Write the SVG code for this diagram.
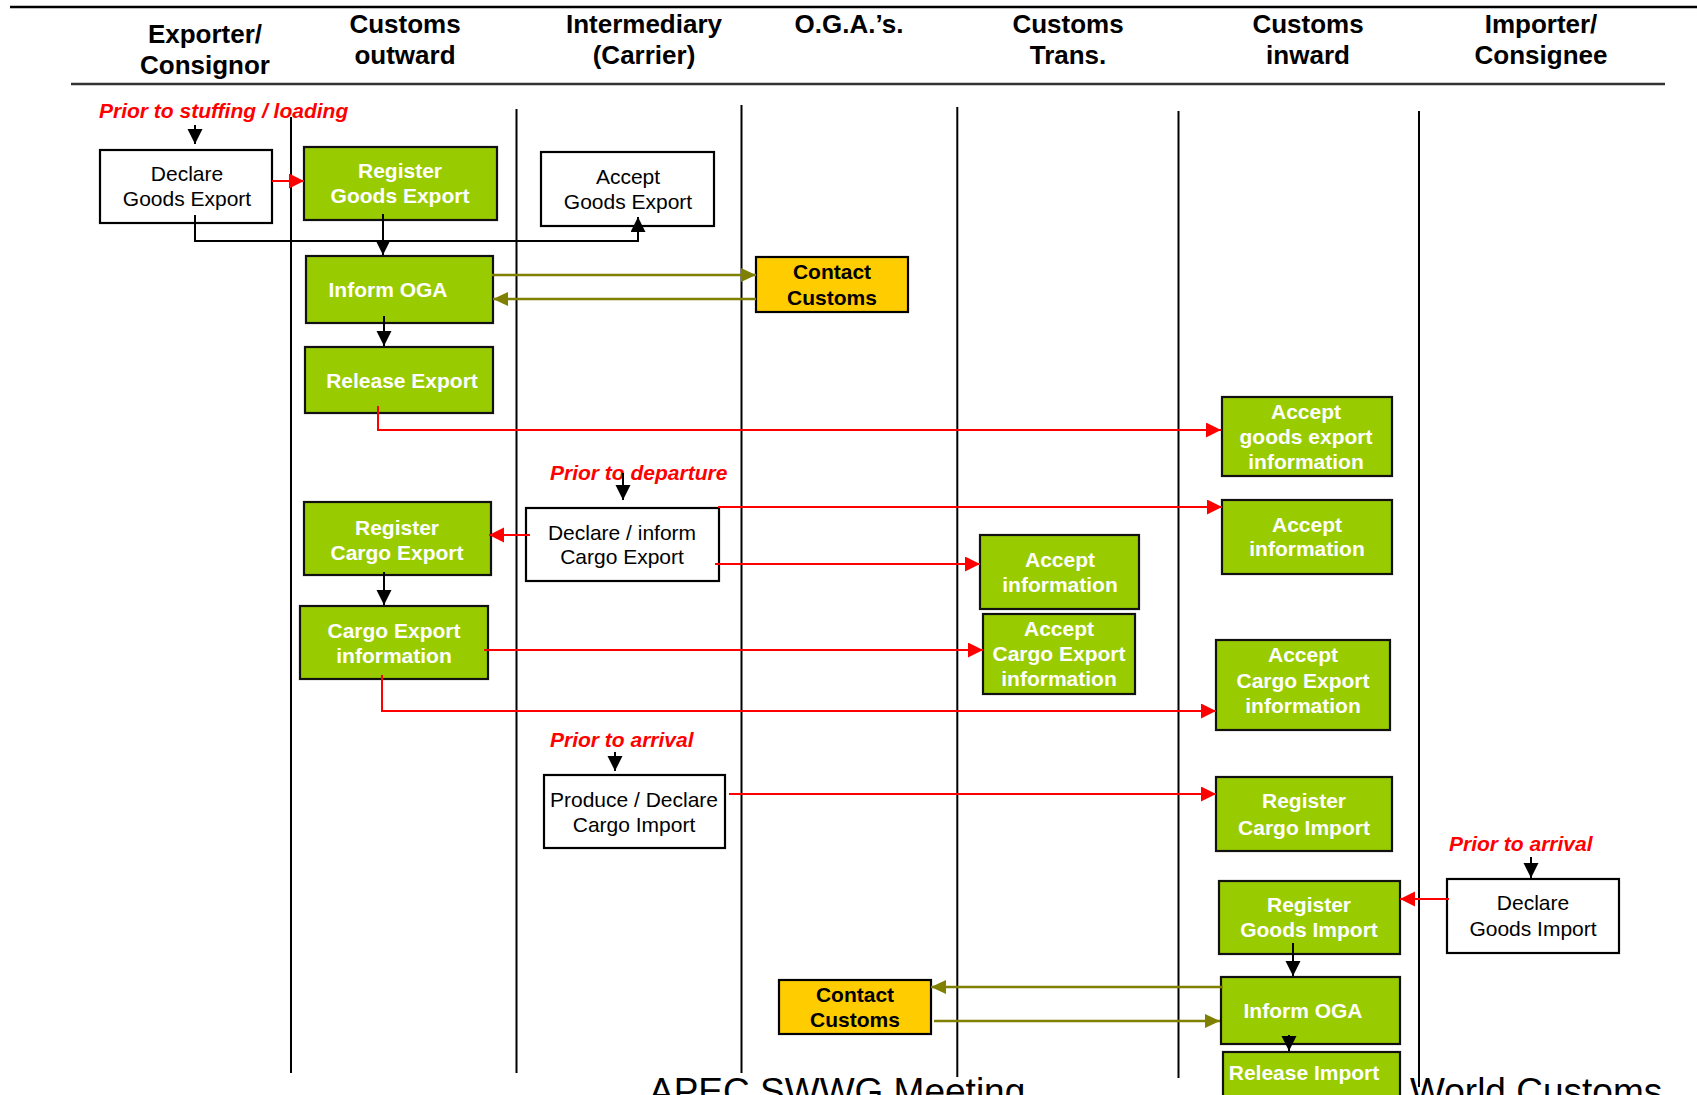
<svg xmlns="http://www.w3.org/2000/svg" width="1697" height="1095" viewBox="0 0 1697 1095">
<defs>
<style>
.hdr{font-family:"Liberation Sans",Arial,sans-serif;font-weight:bold;font-size:26px;fill:#000;text-anchor:middle}
.lane{stroke:#000;stroke-width:2;fill:none}
.g rect{fill:#99CC00;stroke:#111;stroke-width:2.2}
.g text{font-family:"Liberation Sans",Arial,sans-serif;font-weight:bold;font-size:21px;fill:#fff;text-anchor:middle}
.w rect{fill:#fff;stroke:#000;stroke-width:2.2}
.w text{font-family:"Liberation Sans",Arial,sans-serif;font-size:21px;fill:#000;text-anchor:middle}
.y rect{fill:#FFCC00;stroke:#000;stroke-width:2.2}
.y text{font-family:"Liberation Sans",Arial,sans-serif;font-weight:bold;font-size:21px;fill:#000;text-anchor:middle}
.note{font-family:"Liberation Sans",Arial,sans-serif;font-weight:bold;font-style:italic;font-size:21px;fill:#FF0000}
.foot{font-family:"Liberation Sans",Arial,sans-serif;font-size:37px;fill:#000}
.cr{stroke:#FF0000;stroke-width:2;fill:none;marker-end:url(#ar)}
.cb{stroke:#000;stroke-width:2;fill:none;marker-end:url(#ab)}
.co{stroke:#808000;stroke-width:2.5;fill:none;marker-end:url(#ao)}
</style>
<marker id="ar" markerWidth="16" markerHeight="16" refX="15" refY="7.5" orient="auto" markerUnits="userSpaceOnUse"><path d="M0,0 L15,7.5 L0,15 z" fill="#FF0000"/></marker>
<marker id="ab" markerWidth="16" markerHeight="16" refX="15" refY="7.5" orient="auto" markerUnits="userSpaceOnUse"><path d="M0,0 L15,7.5 L0,15 z" fill="#000"/></marker>
<marker id="ao" markerWidth="16" markerHeight="16" refX="15" refY="7" orient="auto" markerUnits="userSpaceOnUse"><path d="M0,0 L15,7 L0,14 z" fill="#808000"/></marker>
</defs>
<rect width="1697" height="1095" fill="#fff"/>

<g id="header">
<line x1="10" y1="7" x2="1697" y2="7" stroke="#000" stroke-width="2.5"/>
<line x1="71" y1="84" x2="1665" y2="84" stroke="#333" stroke-width="2.5"/>
<text class="hdr" x="205" y="43">Exporter/</text>
<text class="hdr" x="205" y="74">Consignor</text>
<text class="hdr" x="405" y="33">Customs</text>
<text class="hdr" x="405" y="64">outward</text>
<text class="hdr" x="644" y="33">Intermediary</text>
<text class="hdr" x="644" y="64">(Carrier)</text>
<text class="hdr" x="849" y="33">O.G.A.’s.</text>
<text class="hdr" x="1068" y="33">Customs</text>
<text class="hdr" x="1068" y="64">Trans.</text>
<text class="hdr" x="1308" y="33">Customs</text>
<text class="hdr" x="1308" y="64">inward</text>
<text class="hdr" x="1541" y="33">Importer/</text>
<text class="hdr" x="1541" y="64">Consignee</text>
</g>

<g id="lanes">
<line class="lane" x1="291" y1="117" x2="291" y2="1073"/>
<line class="lane" x1="516.5" y1="109" x2="516.5" y2="1073"/>
<line class="lane" x1="741.5" y1="105" x2="741.5" y2="1073"/>
<line class="lane" x1="957.3" y1="107" x2="957.3" y2="1077"/>
<line class="lane" x1="1178.5" y1="111" x2="1178.5" y2="1078"/>
<line class="lane" x1="1419" y1="111" x2="1419" y2="1087"/>
</g>

<g id="notes">
<text class="note" x="99" y="118">Prior to stuffing / loading</text>
<text class="note" x="550" y="480">Prior to departure</text>
<text class="note" x="550" y="747">Prior to arrival</text>
<text class="note" x="1449" y="851">Prior to arrival</text>
</g>

<g id="declare-goods-export" class="w"><rect x="100" y="150" width="172" height="73"/><text x="187" y="181">Declare</text><text x="187" y="206">Goods Export</text></g>
<g id="register-goods-export" class="g"><rect x="304" y="147" width="193" height="73"/><text x="400" y="178">Register</text><text x="400" y="203">Goods Export</text></g>
<g id="accept-goods-export" class="w"><rect x="541" y="152" width="173" height="74"/><text x="628" y="184">Accept</text><text x="628" y="209">Goods Export</text></g>
<g id="inform-oga-export" class="g"><rect x="306" y="256" width="187" height="67"/><text x="388" y="297">Inform OGA</text></g>
<g id="contact-customs-export" class="y"><rect x="756" y="257" width="152" height="55"/><text x="832" y="279">Contact</text><text x="832" y="305">Customs</text></g>
<g id="release-export" class="g"><rect x="305" y="347" width="188" height="66"/><text x="402" y="388">Release Export</text></g>
<g id="accept-goods-export-info" class="g"><rect x="1222" y="397" width="170" height="79"/><text x="1306" y="419">Accept</text><text x="1306" y="444">goods export</text><text x="1306" y="469">information</text></g>
<g id="declare-inform-cargo-export" class="w"><rect x="526" y="508" width="193" height="73"/><text x="622" y="540">Declare / inform</text><text x="622" y="564">Cargo Export</text></g>
<g id="register-cargo-export" class="g"><rect x="304" y="502" width="187" height="73"/><text x="397" y="535">Register</text><text x="397" y="560">Cargo Export</text></g>
<g id="accept-info-inward" class="g"><rect x="1222" y="500" width="170" height="74"/><text x="1307" y="532">Accept</text><text x="1307" y="556">information</text></g>
<g id="accept-info-trans" class="g"><rect x="980" y="535" width="159" height="74"/><text x="1060" y="567">Accept</text><text x="1060" y="592">information</text></g>
<g id="cargo-export-info" class="g"><rect x="300" y="606" width="188" height="73"/><text x="394" y="638">Cargo Export</text><text x="394" y="663">information</text></g>
<g id="accept-cargo-export-trans" class="g"><rect x="983" y="614" width="152" height="80"/><text x="1059" y="636">Accept</text><text x="1059" y="661">Cargo Export</text><text x="1059" y="686">information</text></g>
<g id="accept-cargo-export-inward" class="g"><rect x="1216" y="640" width="174" height="90"/><text x="1303" y="662">Accept</text><text x="1303" y="688">Cargo Export</text><text x="1303" y="713">information</text></g>
<g id="produce-declare-cargo-import" class="w"><rect x="544" y="775" width="181" height="73"/><text x="634" y="807">Produce / Declare</text><text x="634" y="832">Cargo Import</text></g>
<g id="register-cargo-import" class="g"><rect x="1216" y="777" width="176" height="74"/><text x="1304" y="808">Register</text><text x="1304" y="835">Cargo Import</text></g>
<g id="declare-goods-import" class="w"><rect x="1447" y="879" width="172" height="74"/><text x="1533" y="910">Declare</text><text x="1533" y="936">Goods Import</text></g>
<g id="register-goods-import" class="g"><rect x="1219" y="881" width="181" height="73"/><text x="1309" y="912">Register</text><text x="1309" y="937">Goods Import</text></g>
<g id="inform-oga-import" class="g"><rect x="1221" y="977" width="179" height="67"/><text x="1303" y="1018">Inform OGA</text></g>
<g id="contact-customs-import" class="y"><rect x="779" y="980" width="152" height="54"/><text x="855" y="1002">Contact</text><text x="855" y="1027">Customs</text></g>
<g id="release-import" class="g"><rect x="1223" y="1052" width="177" height="50"/><text x="1304" y="1080">Release Import</text></g>

<g id="connectors">
<path class="cb" d="M195,125 V144"/>
<path class="cr" d="M272,181 H304"/>
<path class="cb" d="M195,215 V241 H638 V217"/>
<path class="cb" d="M383,214 V255"/>
<path class="co" d="M492,275 H756"/>
<path class="co" d="M756,299 H493"/>
<path class="cb" d="M384,316 V346"/>
<path class="cr" d="M378,406 V430 H1221"/>
<path class="cb" d="M623,473 V500"/>
<path class="cr" d="M530,535 H489"/>
<path class="cr" d="M718,507 H1222"/>
<path class="cr" d="M715,564 H980"/>
<path class="cb" d="M384,572 V605"/>
<path class="cr" d="M484,650 H983"/>
<path class="cr" d="M382,675 V711 H1216"/>
<path class="cb" d="M615,752 V771"/>
<path class="cr" d="M729,794 H1216"/>
<path class="cb" d="M1531,857 V878"/>
<path class="cr" d="M1449,899 H1400"/>
<path class="cb" d="M1293,943 V976"/>
<path class="co" d="M1223,987 H931"/>
<path class="co" d="M934,1021 H1220"/>
<path class="cb" d="M1289,1035 V1051"/>
</g>

<g id="footer">
<text class="foot" x="649" y="1104">APEC SWWG Meeting</text>
<text class="foot" x="1410" y="1104">World Customs</text>
</g>
</svg>
